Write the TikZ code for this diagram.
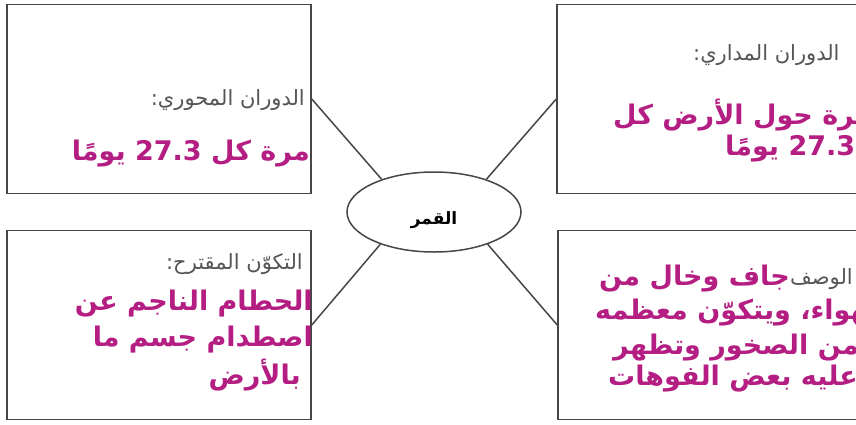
\documentclass[tikz,border=0pt]{standalone}
\usepackage{fontspec}
\usetikzlibrary{shapes.geometric}
\TeXXeTstate=1
\newfontfamily\arabicfont[Script=Arabic]{DejaVu Sans}
\definecolor{moonpink}{RGB}{180,30,130}
\definecolor{moongray}{RGB}{85,85,85}
\definecolor{boxgray}{RGB}{70,70,70}

\begin{document}
\begin{tikzpicture}[x=1pt, y=-1pt, every node/.style={inner sep=0pt}]
  \tikzset{
    infobox/.style={draw=boxgray, line width=1.5pt, minimum width=304pt, minimum height=189pt},
    head/.style={text=moongray, font=\arabicfont\fontsize{21}{24}\selectfont},
    fact/.style={text=moonpink, font=\arabicfont\bfseries\fontsize{27}{30}\selectfont},
    spoke/.style={draw=boxgray, line width=1.5pt}
  }
  \path[use as bounding box, clip] (0,0) rectangle (856,424);

  \node[infobox] (axial)   at (159,99)  {};
  \node[infobox] (orbital) at (709,99)  {};
  \node[infobox] (origin)  at (159,325) {};
  \node[infobox] (surface) at (710,325) {};
  \node[draw=boxgray, line width=1.5pt, ellipse, minimum width=174pt, minimum height=80pt] (moon) at (434,212) {};
  \node[font=\arabicfont\bfseries\fontsize{17}{19}\selectfont] (moonname) at (434,220) {\beginR القمر\endR};

  \draw[spoke] (moon.148) -- (axial.east);
  \draw[spoke] (moon.32)  -- (orbital.west);
  \draw[spoke] (moon.211) -- (origin.east);
  \draw[spoke] (moon.329) -- (surface.west);

  % upper left: axial rotation
  \node[head, anchor=east] (axialhead) at (305,100) {\beginR الدوران المحوري:\endR};
  \node[fact, anchor=east] (axialfact) at (310,154) {\beginR مرة كل \beginL 27.3\endL{} يومًا\endR};

  % upper right: orbital motion
  \node[head, anchor=west] (orbitalhead)  at (693,55)  {\beginR الدوران المداري:\endR};
  \node[fact, anchor=west] (orbitalfactA) at (613,115) {\beginR مرة حول الأرض كل\endR};
  \node[fact, anchor=west] (orbitalfactB) at (725,149) {\beginR\beginL 27.3\endL{} يومًا\endR};

  % lower left: suggested origin
  \node[head, anchor=east] (originhead)  at (303,264) {\beginR التكوّن المقترح:\endR};
  \node[fact, anchor=east] (originfactA) at (313,304) {\beginR الحطام الناجم عن\endR};
  \node[fact, anchor=east] (originfactB) at (313,340) {\beginR اصطدام جسم ما\endR};
  \node[fact, anchor=east] (originfactC) at (301,375) {\beginR بالأرض\endR};

  % lower right: description
  \node[head, anchor=east] (surfacehead)  at (853,279) {\beginR الوصف\endR};
  \node[fact, anchor=east] (surfacefactA) at (surfacehead.west) {\beginR جاف وخال من\endR};
  \node[fact, anchor=west] (surfacefactB) at (595,313) {\beginR الهواء، ويتكوّن معظمه\endR};
  \node[fact, anchor=west] (surfacefactC) at (613,348) {\beginR من الصخور وتظهر\endR};
  \node[fact, anchor=west] (surfacefactD) at (608,379) {\beginR عليه بعض الفوهات\endR};
\end{tikzpicture}
\end{document}
